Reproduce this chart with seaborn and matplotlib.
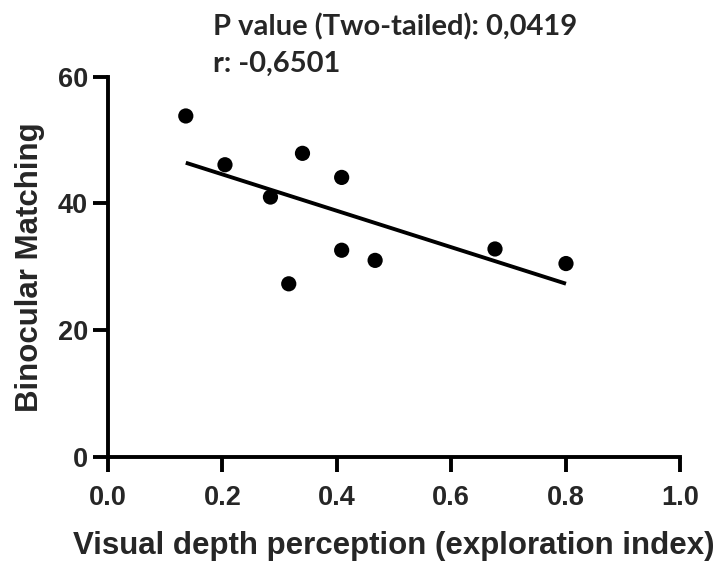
import matplotlib
matplotlib.use("Agg")
import matplotlib.pyplot as plt
import seaborn as sns
import pandas as pd

# Exploration index vs. binocular matching score
exploration_index = [0.136, 0.2045, 0.284, 0.340, 0.4085, 0.4085, 0.467, 0.316, 0.6766, 0.8007]
binocular_matching = [53.8, 46.1, 41.0, 47.9, 44.1, 32.6, 31.0, 27.3, 32.8, 30.5]

p_value_text = "P value (Two-tailed): 0,0419"
r_text = "r: -0,6501"

x_ticks = [0.0, 0.2, 0.4, 0.6, 0.8, 1.0]
y_ticks = [0, 20, 40, 60]

df = pd.DataFrame({"x": exploration_index, "y": binocular_matching})

sns.set_style("ticks")
plt.rcParams["font.family"] = ["Liberation Sans", "DejaVu Sans"]

fig = plt.figure(figsize=(7.22, 5.64), dpi=100)
ax = fig.add_axes([0.1496, 0.1902, 0.7922, 0.6738])

sns.regplot(data=df, x="x", y="y", ax=ax, ci=None, truncate=True,
            color="black",
            scatter_kws={"s": 120, "edgecolor": "none", "alpha": 1, "zorder": 3},
            line_kws={"linewidth": 2.8, "color": "black", "solid_capstyle": "butt"})

ax.set_xlim(0, 1.0)
ax.set_ylim(0, 60)
ax.set_xticks(x_ticks)
ax.set_xticklabels([f"{t:.1f}" for t in x_ticks])
ax.set_yticks(y_ticks)

sns.despine(ax=ax)
for side in ("left", "bottom"):
    ax.spines[side].set_linewidth(2.8)
    ax.spines[side].set_color("black")
    ax.spines[side].set_capstyle("projecting")

ax.tick_params(axis="both", direction="out", length=11, width=2.8,
               color="black", labelsize=19.5)
ax.tick_params(axis="x", pad=9.5)
ax.tick_params(axis="y", pad=3.5)
for lab in ax.get_xticklabels() + ax.get_yticklabels():
    lab.set_fontweight("bold")

ax.set_xlabel("Visual depth perception (exploration index)",
              fontsize=22.5, fontweight="bold", labelpad=14)
ax.set_ylabel("Binocular Matching", fontsize=22.5, fontweight="bold", labelpad=9)

fig.text(213 / 722, 1 - 35 / 564, p_value_text, fontsize=21, fontweight="bold",
         family=["Lato", "DejaVu Sans"], ha="left", va="baseline")
fig.text(213 / 722, 1 - 72 / 564, r_text, fontsize=21, fontweight="bold",
         family=["Lato", "DejaVu Sans"], ha="left", va="baseline")

fig.savefig("out.png", dpi=100)
